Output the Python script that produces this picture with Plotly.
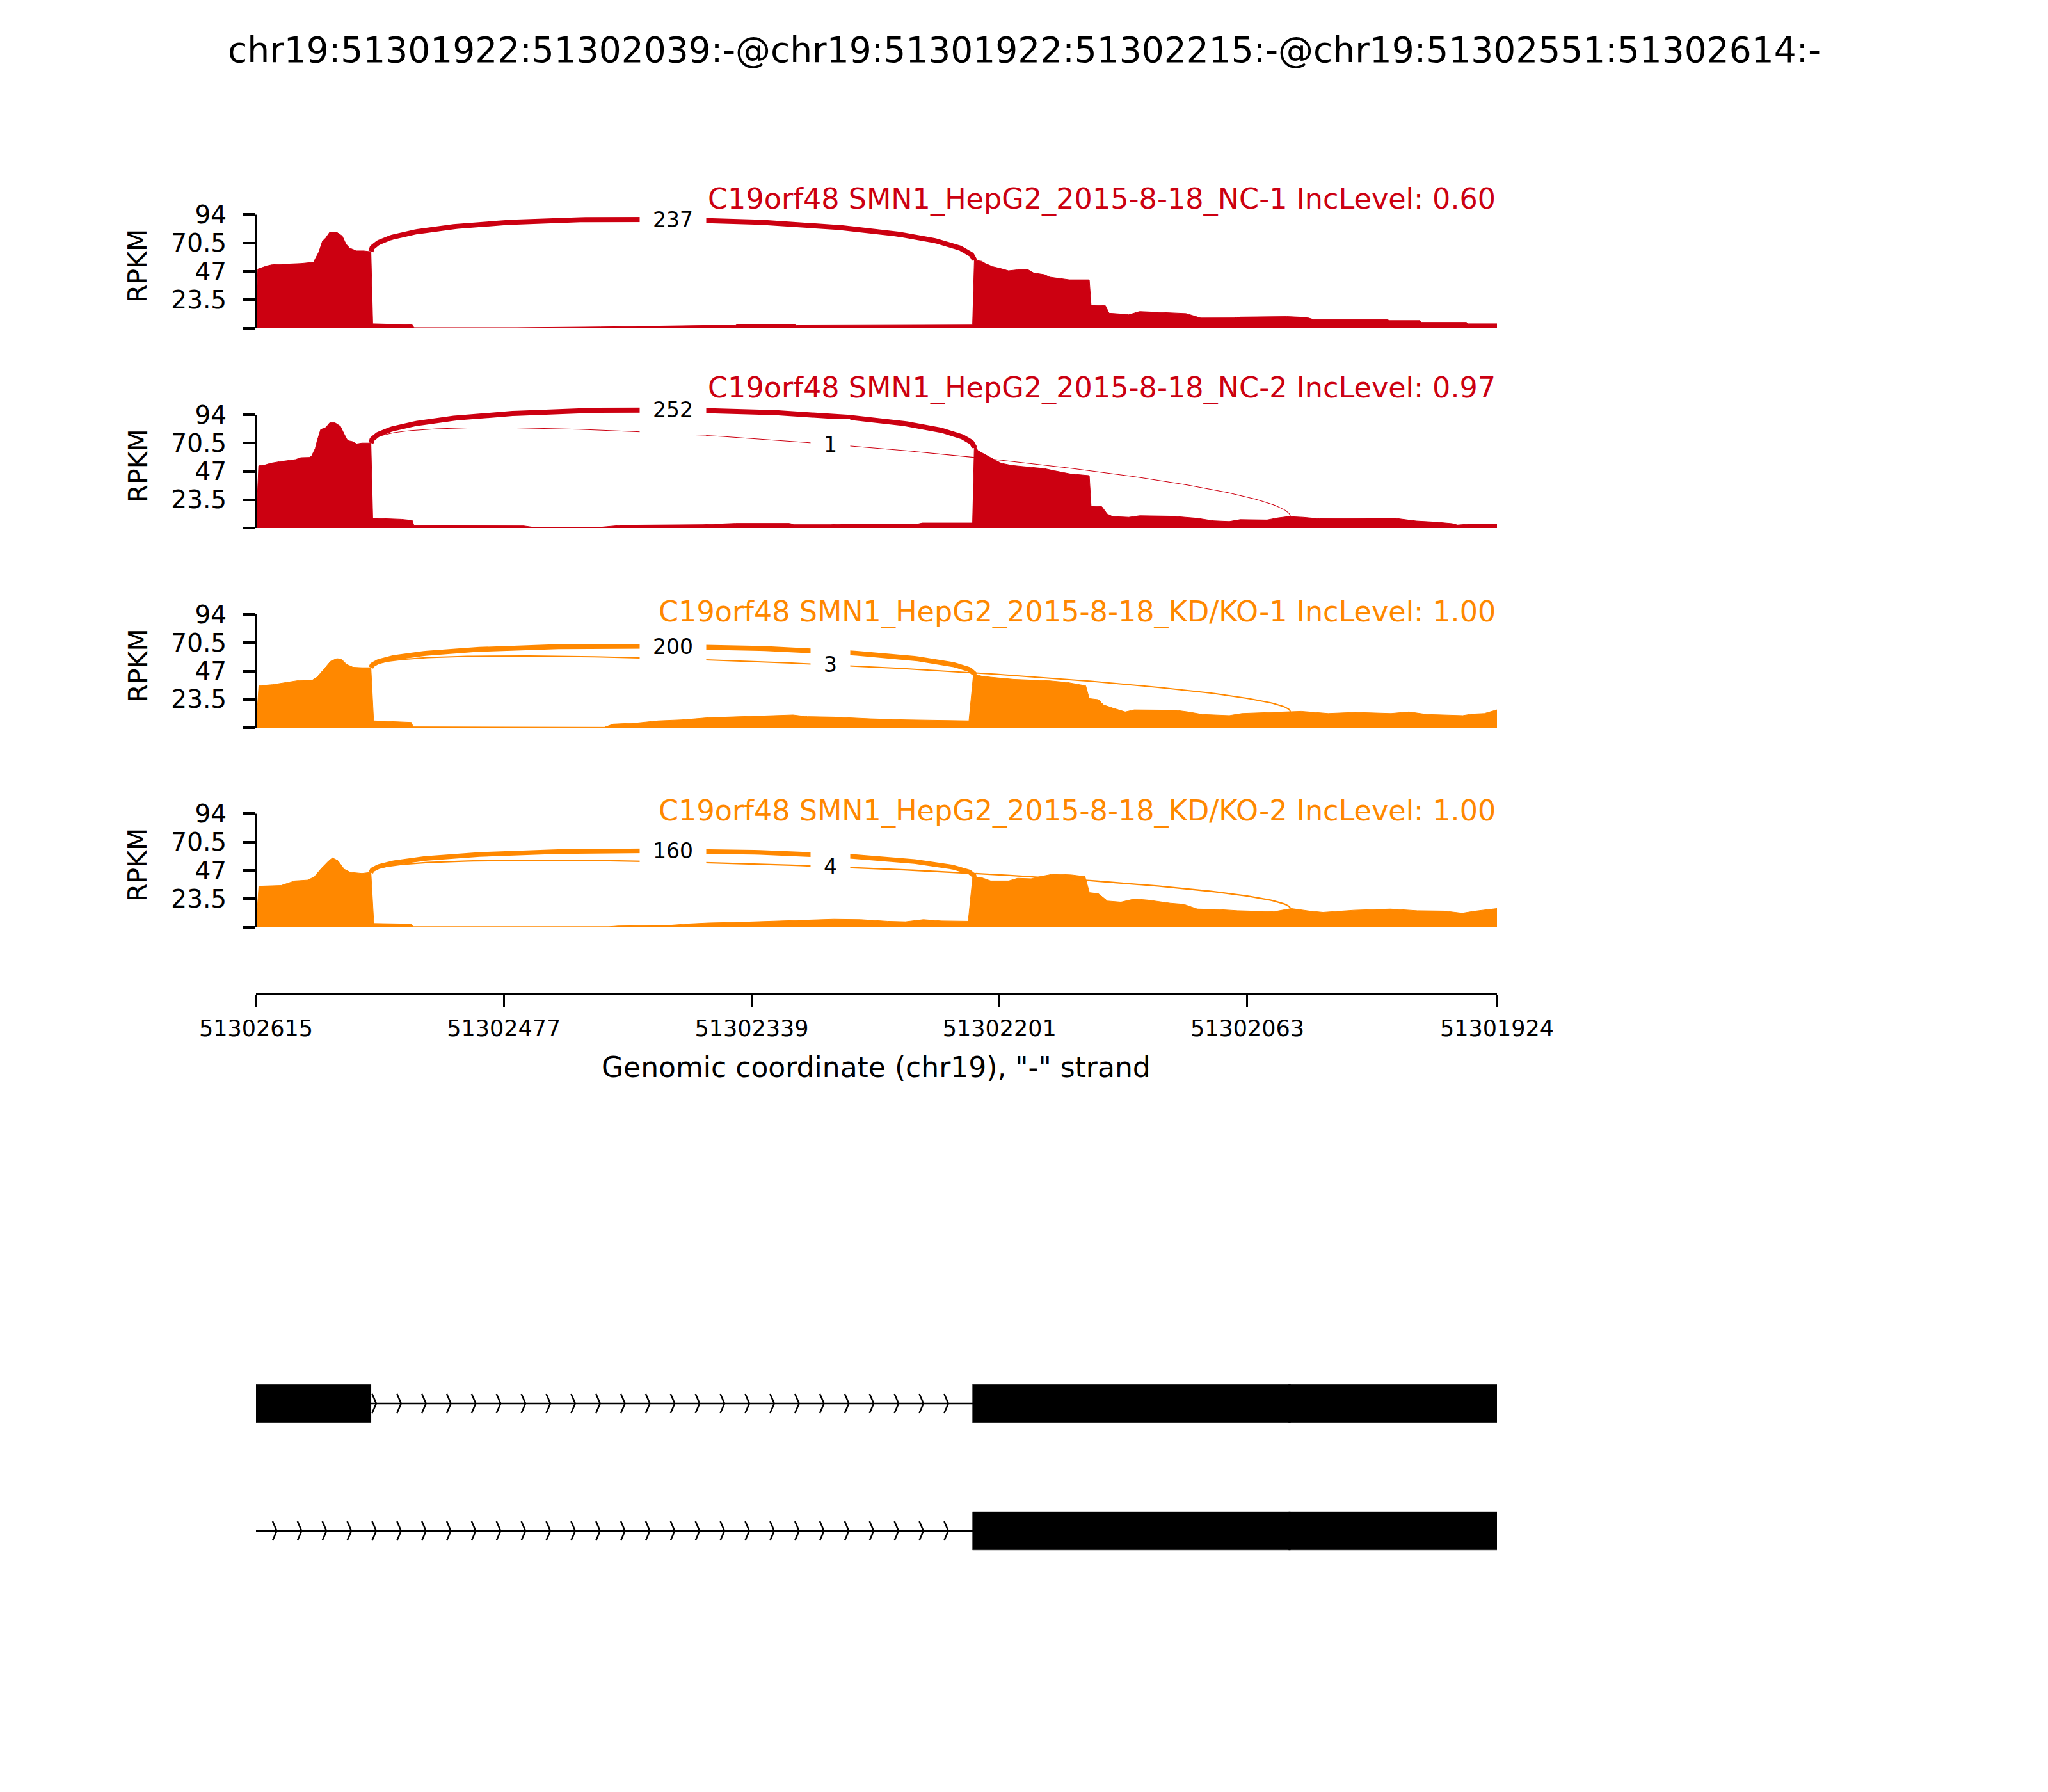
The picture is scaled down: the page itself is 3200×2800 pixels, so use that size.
import numpy as np
import plotly.graph_objects as go

# ---------------- data ----------------
TITLE = "chr19:51301922:51302039:-@chr19:51301922:51302215:-@chr19:51302551:51302614:-"
SAMPLE_LABELS = [
    "C19orf48 SMN1_HepG2_2015-8-18_NC-1 IncLevel: 0.60",
    "C19orf48 SMN1_HepG2_2015-8-18_NC-2 IncLevel: 0.97",
    "C19orf48 SMN1_HepG2_2015-8-18_KD/KO-1 IncLevel: 1.00",
    "C19orf48 SMN1_HepG2_2015-8-18_KD/KO-2 IncLevel: 1.00",
]
SAMPLE_GROUPS = ["NC", "NC", "KD", "KD"]
X_START, X_END = 51302615, 51301924
X_TICKS = [51302615, 51302477, 51302339, 51302201, 51302063, 51301924]
Y_TICKS = [0, 23.5, 47, 70.5, 94]
Y_TICK_TEXT = ["", "23.5", "47", "70.5", "94"]
X_LABEL = 'Genomic coordinate (chr19), "-" strand'
Y_LABEL = "RPKM"

NC1_POS = [51302615, 51302614, 51302609, 51302606, 51302590, 51302583, 51302580, 51302578, 51302576,
           51302574, 51302570, 51302567, 51302565, 51302563, 51302559, 51302555, 51302551, 51302550,
           51302528, 51302527, 51302470, 51302423, 51302366, 51302348, 51302347, 51302315, 51302314,
           51302247, 51302216, 51302215, 51302211, 51302209, 51302205, 51302200, 51302196, 51302191,
           51302185, 51302182, 51302176, 51302173, 51302168, 51302162, 51302151, 51302150, 51302142,
           51302140, 51302131, 51302129, 51302123, 51302110, 51302097, 51302089, 51302070, 51302067,
           51302041, 51302030, 51302026, 51301985, 51301984, 51301967, 51301966, 51301941, 51301940,
           51301924]
NC1_RPKM = [0, 48.9, 51.5, 52.5, 53.5, 54.5, 63, 72, 75, 79.4, 79.4, 76.4, 70, 66.4, 64, 64, 63.3, 3.5,
            2.6, 0.3, 0.3, 0.9, 2.1, 2.1, 3.0, 3.0, 2.1, 2.5, 2.5, 56.2, 55.4, 53.6, 51, 49.2, 47.5, 48.3,
            48.3, 45.7, 44.3, 42.2, 41.3, 40, 40, 19, 18.5, 12.3, 11.4, 11, 13.7, 12.7, 12, 8.3, 8.4, 9.1,
            9.5, 8.8, 7, 7, 6.2, 6.2, 4.7, 4.7, 3.5, 3.5]

NC2_POS = [51302615, 51302613.5, 51302610, 51302607, 51302602, 51302596, 51302593, 51302590, 51302585,
           51302584, 51302582, 51302581, 51302579, 51302576, 51302574, 51302571, 51302568, 51302566,
           51302564, 51302561, 51302559, 51302556, 51302551, 51302550, 51302534, 51302528, 51302527,
           51302466, 51302461, 51302423, 51302411, 51302366, 51302348, 51302318, 51302315, 51302295,
           51302289, 51302247, 51302244, 51302216, 51302215, 51302213, 51302209, 51302204.5, 51302200,
           51302194, 51302188, 51302182, 51302176, 51302170.5, 51302161.6, 51302151, 51302150, 51302144,
           51302141, 51302138, 51302129, 51302123, 51302105, 51302091, 51302082, 51302073, 51302067,
           51302052, 51302046, 51302040, 51302032, 51302023, 51301981, 51301969, 51301958, 51301949,
           51301946, 51301940, 51301924]
NC2_RPKM = [0, 51.6, 52.3, 53.7, 55, 56, 56.8, 58.4, 58.6, 59.8, 66, 72, 81.7, 83.5, 87.3, 87.3, 84.4,
            78.2, 72.6, 71.6, 69.8, 70.5, 70.5, 8.1, 7.2, 6.3, 1.9, 1.75, 0.7, 0.7, 2.3, 2.8, 3.9, 3.9,
            2.8, 2.8, 3.2, 3.2, 4.2, 4.2, 68.6, 64.2, 60.7, 57.2, 53.7, 51.9, 51, 50.2, 49.3, 47.5, 44.9,
            43.5, 18.2, 17.7, 11.6, 9.5, 8.9, 10.2, 9.8, 8.1, 6, 5.4, 7, 6.7, 8.4, 9.5, 8.9, 7.7, 8.1,
            5.8, 4.9, 3.7, 2.5, 3.2, 3.2]

KD1_POS = [51302615, 51302613.4, 51302606, 51302598, 51302591, 51302583.5, 51302581, 51302577.5,
           51302573.5, 51302570, 51302567.5, 51302564.5, 51302561, 51302556, 51302551, 51302549.5,
           51302538, 51302528.5, 51302527.5, 51302473, 51302421, 51302416, 51302403, 51302391,
           51302378, 51302363, 51302343, 51302323, 51302316, 51302308, 51302293, 51302273, 51302253,
           51302218, 51302215.5, 51302211, 51302206, 51302193, 51302173, 51302163, 51302153, 51302151,
           51302146, 51302143, 51302138, 51302131, 51302126, 51302103, 51302096, 51302088, 51302073,
           51302066, 51302053, 51302033, 51302018, 51302003, 51301983, 51301973, 51301963, 51301943,
           51301938, 51301931, 51301924]
KD1_RPKM = [0, 34.8, 35.7, 37.5, 39.2, 39.6, 41.9, 48, 55.1, 57.3, 56.9, 52.5, 50.2, 49.8, 49.8, 5.7,
            4.8, 4.4, 0.7, 0.35, 0.35, 3, 3.9, 5.7, 6.5, 8.3, 9.2, 10.1, 10.6, 9.2, 8.8, 7.4, 6.5, 5.7,
            44.5, 42.8, 41.9, 40.1, 38.9, 37.5, 34.8, 24.2, 23.3, 18.9, 16.3, 13.1, 14.8, 14.5, 13.1,
            11, 10.1, 11.8, 12.4, 13.6, 11.8, 12.7, 11.8, 13.1, 11, 10.1, 11.3, 11.8, 14.8]

KD2_POS = [51302615, 51302613.4, 51302601, 51302593.4, 51302586, 51302582.4, 51302578.4, 51302574.4,
           51302572.4, 51302569.4, 51302565.9, 51302562.4, 51302556, 51302551, 51302549.4, 51302528.4,
           51302527.4, 51302418.4, 51302413.4, 51302398.4, 51302383.4, 51302373.4, 51302363.4,
           51302343.4, 51302323.4, 51302308.4, 51302293.4, 51302278.4, 51302263.4, 51302253.4,
           51302243.4, 51302233.4, 51302218.4, 51302215.9, 51302210.9, 51302205.9, 51302195.9,
           51302190.9, 51302183.4, 51302178.4, 51302170.9, 51302160.9, 51302153.4, 51302150.9,
           51302145.9, 51302140.9, 51302133.4, 51302125.9, 51302118.4, 51302105.9, 51302098.4,
           51302090.9, 51302078.4, 51302068.4, 51302048.4, 51302038.4, 51302028.4, 51302020.9,
           51302003.4, 51301983.4, 51301968.4, 51301953.4, 51301943.4, 51301935.9, 51301925.9,
           51301924]
KD2_RPKM = [0, 33.9, 34.5, 38.3, 39, 41.9, 49, 55.1, 57.4, 55.1, 48, 45.4, 44.5, 45.4, 3, 2.5, 0.35,
            0.35, 0.9, 1.2, 1.6, 2.7, 3.4, 4.1, 5.1, 5.8, 6.5, 6.2, 4.8, 4.4, 6.2, 5.1, 4.8, 41.9, 41,
            38.3, 38.3, 40.5, 40.1, 41.9, 44, 43.3, 41.9, 28.6, 27.7, 21.6, 20.7, 23.3, 22.4, 19.8, 18.9,
            15, 14.5, 13.6, 12.7, 15.4, 13.3, 12.2, 14, 15, 13.6, 13.3, 11.5, 13.3, 15.4, 15.4]

# junctions (upstream site, downstream site) and read counts per sample (0 = not drawn)
JUNCTIONS = [(51302551, 51302215), (51302551, 51302039)]
NC1_JXN = [237, 0]
NC2_JXN = [252, 1]
KD1_JXN = [200, 3]
KD2_JXN = [160, 4]

# gene model
TX1_EXONS = [(51302551, 51302614), (51302039, 51302215), (51301922, 51302039)]
TX1_INTRONS = [(51302215, 51302551)]
TX2_EXONS = [(51302039, 51302215), (51301922, 51302039)]
TX2_INTRONS = [(51302215, 51302615)]

# ---------------- style / geometry ----------------
W, H = 3200, 2800
PAGE_OFFSET = 8  # default page margin of the html body
FONT = "DejaVu Sans"
COLORS = {"NC": "#CC0011", "KD": "#FF8800"}
ZERO_PX = [512.5, 825.0, 1137.0, 1448.5]
PX_PER_UNIT = 1.883
Y_LO, Y_HI = -3.0, 112.0
ARC_RISE = [40.3, 39.4, 27.4, 26.4]
TITLE_PX = [311, 606, 956, 1267]


def pxx(p):
    return (p - PAGE_OFFSET) / W


def pyy(p):
    return 1 - (p - PAGE_OFFSET) / H


X_DOM = [pxx(400), pxx(2339)]

samples = [
    (NC1_POS, NC1_RPKM, NC1_JXN),
    (NC2_POS, NC2_RPKM, NC2_JXN),
    (KD1_POS, KD1_RPKM, KD1_JXN),
    (KD2_POS, KD2_RPKM, KD2_JXN),
]
max_count = max(max(s[2]) for s in samples)


def cov_at(pos, val, g):
    p = np.asarray(pos, dtype=float)[::-1]
    v = np.asarray(val, dtype=float)[::-1]
    return float(np.interp(g, p, v))


def bezier(pts, t):
    t = np.asarray(t)[:, None]
    p = np.asarray(pts, dtype=float)
    return ((1 - t) ** 3) * p[0] + 3 * ((1 - t) ** 2) * t * p[1] + 3 * (1 - t) * t ** 2 * p[2] + t ** 3 * p[3]


fig = go.Figure()
annotations = []
shapes = []
layout = dict(
    width=W, height=H, autosize=False,
    margin=dict(l=0, r=0, t=0, b=0, autoexpand=False),
    paper_bgcolor="white", plot_bgcolor="white",
    showlegend=False,
    font=dict(family=FONT, color="black"),
)

for i, ((pos, rpkm, jxn), grp, label) in enumerate(zip(samples, SAMPLE_GROUPS, SAMPLE_LABELS)):
    n = i + 1
    xa = "x" if n == 1 else f"x{n}"
    ya = "y" if n == 1 else f"y{n}"
    color = COLORS[grp]
    z = ZERO_PX[i]
    ydom = [pyy(z - Y_LO * PX_PER_UNIT), pyy(z - Y_HI * PX_PER_UNIT)]

    fig.add_trace(go.Scatter(x=pos, y=rpkm, mode="lines", fill="tozeroy", fillcolor=color,
                             line=dict(color=color, width=1), xaxis=xa, yaxis=ya, hoverinfo="skip"))

    h = ARC_RISE[i]
    for (ss1, ss2), count in zip(JUNCTIONS, jxn):
        if count <= 0:
            continue
        ld = cov_at(pos, rpkm, ss1 + 1)
        rd = cov_at(pos, rpkm, ss2 - 1)
        pts = [(ss1, ld), (ss1, ld + h), (ss2, rd + h), (ss2, rd)]
        curve = bezier(pts, np.linspace(0, 1, 160))
        lw = 8 * np.log(count + 1) / np.log(max_count + 1)
        fig.add_trace(go.Scatter(x=curve[:, 0], y=curve[:, 1], mode="lines",
                                 line=dict(color=color, width=lw), xaxis=xa, yaxis=ya, hoverinfo="skip"))
        mid = bezier(pts, [0.5])[0]
        annotations.append(dict(x=mid[0], y=mid[1], xref=xa, yref=ya, text=str(count), showarrow=False,
                                font=dict(size=33, color="black", family=FONT), bgcolor="white",
                                borderpad=20, xanchor="center", yanchor="middle"))

    xaxis_cfg = dict(domain=X_DOM, range=[X_START, X_END], anchor=ya, showgrid=False, zeroline=False,
                     visible=False, automargin=False)
    if n == 4:
        xaxis_cfg.update(visible=True, anchor="free", position=pyy(1553), showline=True, linewidth=4,
                         linecolor="black", ticks="outside", ticklen=19, tickwidth=3, tickcolor="black",
                         tickvals=X_TICKS, ticktext=[str(t) for t in X_TICKS],
                         tickfont=dict(size=35, family=FONT, color="black"), ticklabelstandoff=3)
    layout["xaxis" if n == 1 else f"xaxis{n}"] = xaxis_cfg
    layout["yaxis" if n == 1 else f"yaxis{n}"] = dict(
        domain=ydom, range=[Y_LO, Y_HI], anchor=xa, showgrid=False, zeroline=False, showline=False,
        automargin=False,
        ticks="outside", ticklen=19, tickwidth=3.5, tickcolor="black",
        tickvals=Y_TICKS, ticktext=Y_TICK_TEXT,
        tickfont=dict(size=39, family=FONT, color="black"), ticklabelstandoff=18)

    shapes.append(dict(type="line", xref=f"{xa} domain", yref=ya, x0=0, x1=0, y0=Y_TICKS[0], y1=Y_TICKS[-1],
                       line=dict(color="black", width=3.5)))

    annotations.append(dict(x=X_DOM[1], y=pyy(TITLE_PX[i]), xref="paper", yref="paper", text=label,
                            showarrow=False, xanchor="right", yanchor="middle",
                            font=dict(size=44.5, color=color, family=FONT)))
    annotations.append(dict(x=pxx(215), y=pyy(z - 97.5), xref="paper", yref="paper", text=Y_LABEL,
                            showarrow=False, textangle=-90, xanchor="center", yanchor="middle",
                            font=dict(size=41, color="black", family=FONT)))

# ---------------- gene model ----------------
BOX_HALF = 0.15
CHEV_W, CHEV_H = 2.3, 0.075
CHEV_STEP, CHEV_OFFSET = 13.85, 14.5
for track_y, exons, introns in [(1, TX1_EXONS, TX1_INTRONS), (0, TX2_EXONS, TX2_INTRONS)]:
    for lo, hi in introns:
        fig.add_trace(go.Scatter(x=[hi, lo], y=[track_y, track_y], mode="lines",
                                 line=dict(color="black", width=2.5), xaxis="x5", yaxis="y5", hoverinfo="skip"))
        cx, cy = [], []
        p = lo + CHEV_OFFSET
        while p < hi - 2:
            cx += [p + CHEV_W, p, p + CHEV_W, None]
            cy += [track_y + CHEV_H, track_y, track_y - CHEV_H, None]
            p += CHEV_STEP
        fig.add_trace(go.Scatter(x=cx, y=cy, mode="lines", line=dict(color="black", width=2.5),
                                 xaxis="x5", yaxis="y5", hoverinfo="skip"))
    for lo, hi in exons:
        fig.add_trace(go.Scatter(x=[hi + 1, lo, lo, hi + 1, hi + 1],
                                 y=[track_y - BOX_HALF, track_y - BOX_HALF, track_y + BOX_HALF,
                                    track_y + BOX_HALF, track_y - BOX_HALF],
                                 mode="lines", fill="toself", fillcolor="black",
                                 line=dict(color="black", width=0.5), xaxis="x5", yaxis="y5", hoverinfo="skip"))

layout["xaxis5"] = dict(domain=X_DOM, range=[X_START, X_END], anchor="y5", visible=False, automargin=False)
layout["yaxis5"] = dict(domain=[pyy(2491.5), pyy(2093.5)], range=[-0.5, 1.5], anchor="x5", visible=False,
                        automargin=False)

annotations.append(dict(x=pxx(1600), y=pyy(78), xref="paper", yref="paper", text=TITLE, showarrow=False,
                        xanchor="center", yanchor="middle", font=dict(size=55, color="black", family=FONT)))
annotations.append(dict(x=(X_DOM[0] + X_DOM[1]) / 2, y=pyy(1667), xref="paper", yref="paper", text=X_LABEL,
                        showarrow=False, xanchor="center", yanchor="middle",
                        font=dict(size=44, color="black", family=FONT)))

layout["annotations"] = annotations
layout["shapes"] = shapes
fig.update_layout(**layout)
fig.write_html("out.html")
